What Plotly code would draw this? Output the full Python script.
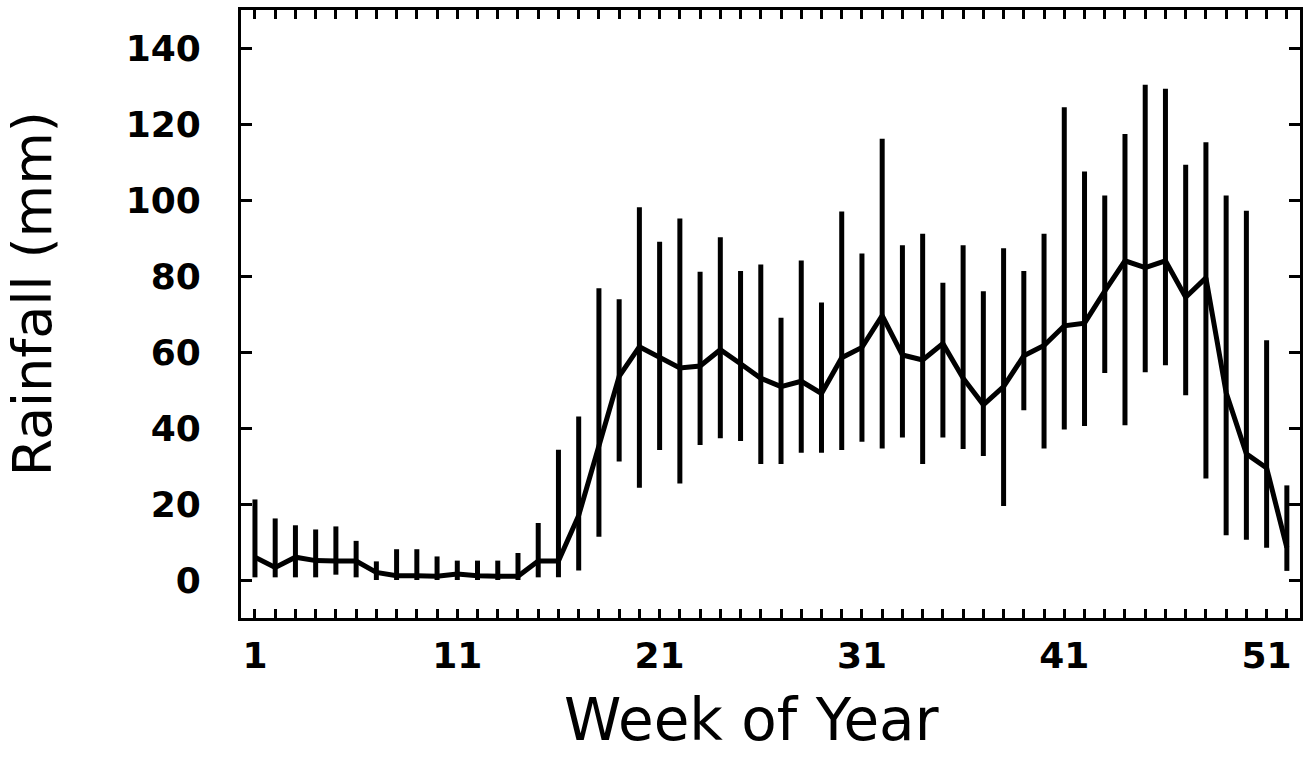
import plotly.graph_objects as go

weeks = list(range(1, 53))
mean_rain = [6.0, 3.3, 6.0, 5.1, 5.0, 5.0, 2.0, 1.1, 1.1, 1.0,
             1.6, 1.1, 1.0, 1.0, 5.0, 5.0, 17.0, 34.8, 53.6, 61.4,
             58.5, 55.8, 56.3, 60.6, 56.9, 53.1, 50.9, 52.3, 49.1, 58.5,
             61.2, 69.6, 59.2, 57.9, 62.2, 53.1, 46.1, 50.9, 59.0, 61.7,
             66.9, 67.6, 76.0, 84.0, 82.2, 84.0, 74.4, 79.5, 49.3, 33.2,
             29.5, 8.5]
upper_rain = [21.2, 16.2, 14.4, 13.3, 14.1, 10.3, 4.9, 8.1, 8.1, 6.2,
              5.1, 5.1, 5.1, 7.1, 15.0, 34.3, 43.0, 76.8, 73.9, 98.1,
              89.0, 95.1, 81.1, 90.2, 81.3, 83.0, 69.0, 84.1, 73.0, 97.0,
              85.9, 116.1, 88.1, 91.1, 78.2, 88.1, 76.0, 87.3, 81.3, 91.1,
              124.4, 107.5, 101.2, 117.4, 130.3, 129.3, 109.3, 115.2, 101.2, 97.2,
              63.1, 24.9]
lower_rain = [0.7, 0.7, 0.7, 0.7, 1.4, 0.7, 0.0, 0.0, 0.0, 0.0,
              0.0, 0.0, 0.0, 0.0, 0.7, 0.7, 2.5, 11.4, 31.2, 24.3,
              34.2, 25.4, 35.5, 37.3, 36.6, 30.5, 30.5, 33.5, 33.5, 34.2,
              36.4, 34.6, 37.5, 30.5, 37.5, 34.5, 32.6, 19.5, 44.7, 34.6,
              39.6, 40.5, 54.5, 40.7, 54.7, 56.5, 48.6, 26.7, 11.8, 10.6,
              8.5, 2.4]

x_tickvals = [1, 11, 21, 31, 41, 51]
x_ticktext = ["1", "11", "21", "31", "41", "51"]
y_tickvals = [0, 20, 40, 60, 80, 100, 120, 140]
y_ticktext = ["0", "20", "40", "60", "80", "100", "120", "140"]
x_title = "Week of Year"
y_title = "Rainfall (mm)"

plus = [u - m for u, m in zip(upper_rain, mean_rain)]
minus = [m - l for m, l in zip(mean_rain, lower_rain)]

fig = go.Figure()
fig.add_trace(go.Scatter(
    x=weeks, y=mean_rain, mode="lines",
    line=dict(color="black", width=5),
    error_y=dict(type="data", symmetric=False, array=plus, arrayminus=minus,
                 thickness=5, width=0, color="black"),
    showlegend=False,
))

tickfont = dict(family="DejaVu Sans", size=36, color="black", weight="bold")
fig.update_layout(
    width=1306, height=772,
    margin=dict(l=241, r=3, t=10, b=154),
    paper_bgcolor="white", plot_bgcolor="white",
    font=dict(family="DejaVu Sans", color="black"),
)
fig.update_xaxes(
    range=[0.31, 52.65],
    tickmode="array", tickvals=x_tickvals, ticktext=x_ticktext,
    ticks="inside", ticklen=9, tickwidth=3, tickcolor="black",
    minor=dict(tickmode="linear", tick0=1, dtick=1, ticks="inside",
               ticklen=9, tickwidth=3, tickcolor="black"),
    showline=True, linewidth=3, linecolor="black", mirror="allticks",
    showgrid=False, zeroline=False,
    tickfont=tickfont, ticklabelstandoff=4,
)
fig.update_yaxes(
    range=[-10, 150],
    tickmode="array", tickvals=y_tickvals, ticktext=y_ticktext,
    ticks="inside", ticklen=11, tickwidth=3, tickcolor="black",
    showline=True, linewidth=3, linecolor="black", mirror="allticks",
    showgrid=False, zeroline=False,
    tickfont=tickfont, ticklabelstandoff=30,
)
fig.add_annotation(
    text=x_title, xref="paper", yref="paper", x=0.482, y=-0.168,
    xanchor="center", yanchor="middle", showarrow=False,
    font=dict(family="DejaVu Sans", size=58, color="black"),
)
fig.add_annotation(
    text=y_title, xref="paper", yref="paper", x=-0.196, y=0.533,
    xanchor="center", yanchor="middle", showarrow=False, textangle=-90,
    font=dict(family="DejaVu Sans", size=54, color="black"),
)

fig.write_html("out.html")
